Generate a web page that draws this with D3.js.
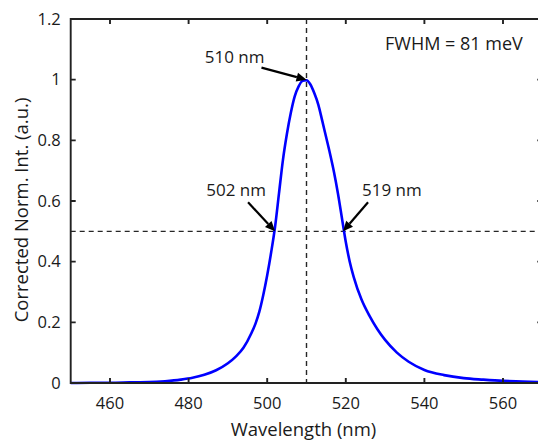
<!DOCTYPE html>
<html>
<head>
<meta charset="utf-8">
<script src="https://cdn.jsdelivr.net/npm/d3@7"></script>
<style>
  body { margin: 0; background: #fff; }
  svg { display: block; font-family: "Open Sans", sans-serif; }
</style>
</head>
<body>
<div id="chart"></div>
<script>
// spectrum
const wavelength = [450, 455, 460, 465, 470, 474, 478, 481, 484, 487, 490, 492, 494, 496, 497, 498, 499, 500, 501, 502,
  503, 504, 505, 506, 507, 508, 509, 510, 511, 512, 513, 514, 515, 516, 517, 518, 519, 520, 521, 522,
  524, 526, 528, 530, 533, 536, 540, 545, 550, 555, 560, 565, 570];
const intensity = [0.000, 0.001, 0.001, 0.002, 0.003, 0.006, 0.011, 0.017, 0.027, 0.042, 0.065, 0.087, 0.117, 0.165, 0.195, 0.235, 0.29, 0.355, 0.43, 0.515,
  0.625, 0.735, 0.82, 0.89, 0.945, 0.978, 0.996, 0.998, 0.984, 0.955, 0.918, 0.865, 0.81, 0.755, 0.695, 0.625, 0.545, 0.465, 0.4, 0.35,
  0.275, 0.222, 0.178, 0.142, 0.1, 0.07, 0.043, 0.026, 0.016, 0.011, 0.007, 0.005, 0.003];

const xTicks = [460, 480, 500, 520, 540, 560];
const yTicks = [0, 0.2, 0.4, 0.6, 0.8, 1, 1.2];
const yTickLabels = ["0", "0.2", "0.4", "0.6", "0.8", "1", "1.2"];

const peakWl = 510, halfMax = 0.5;
const annotations = [
  { label: "510 nm", wl: 510, val: 1.0 },
  { label: "502 nm", wl: 502, val: 0.5 },
  { label: "519 nm", wl: 519.3, val: 0.5 }
];
const fwhmText = "FWHM = 81 meV";

const W = 538, H = 442;
const margin = { top: 19, left: 70.7 };
const plotW = 471.6, plotH = 364;

const svg = d3.select("#chart").append("svg")
  .attr("width", W).attr("height", H);

// absolute-position scales
const x = d3.scaleLinear().domain([450, 570]).range([margin.left, margin.left + plotW]);
const y = d3.scaleLinear().domain([0, 1.2]).range([margin.top + plotH, margin.top]);

const axisColor = "#262626";
const textColor = "#1a1a1a";
const tickLen = 5;

// dashed guide lines
svg.append("line")
  .attr("x1", x(peakWl)).attr("x2", x(peakWl))
  .attr("y1", y(1.2)).attr("y2", y(0))
  .attr("stroke", axisColor).attr("stroke-width", 1.4)
  .attr("stroke-dasharray", "5,4");
svg.append("line")
  .attr("x1", x(450)).attr("x2", x(570))
  .attr("y1", y(halfMax)).attr("y2", y(halfMax))
  .attr("stroke", axisColor).attr("stroke-width", 1.4)
  .attr("stroke-dasharray", "5,4");

// spectrum
const data = wavelength.map((w, i) => ({ w, v: intensity[i] }));
svg.append("path")
  .datum(data)
  .attr("fill", "none")
  .attr("stroke", "#0000ff")
  .attr("stroke-width", 2.6)
  .attr("d", d3.line().x(d => x(d.w)).y(d => y(d.v)).curve(d3.curveMonotoneX));

// tick labels
svg.selectAll(".xl").data(xTicks).enter().append("text")
  .attr("x", d => x(d)).attr("y", y(0) + 26)
  .attr("text-anchor", "middle")
  .style("font-size", "16.5px").attr("fill", textColor)
  .text(d => d);
svg.selectAll(".ylab").data(yTicks).enter().append("text")
  .attr("x", x(450) - 10).attr("y", d => y(d)).attr("dy", "0.35em")
  .attr("text-anchor", "end")
  .style("font-size", "16.5px").attr("fill", textColor)
  .text((d, i) => yTickLabels[i]);

// axis titles
svg.append("text")
  .attr("x", x(510) - 3).attr("y", 436)
  .attr("text-anchor", "middle")
  .style("font-size", "18.5px").attr("fill", textColor)
  .text("Wavelength (nm)");

svg.append("text")
  .attr("transform", `translate(28,${margin.top + plotH / 2 + 9}) rotate(-90)`)
  .attr("text-anchor", "middle")
  .style("font-size", "18.5px").attr("fill", textColor)
  .text("Corrected Norm. Int. (a.u.)");

// annotations: arrow tail offset and label position relative to the marked point
const arrowOffsets = [
  { tx: -45, ty: -12, lx: -42, ly: -17, anchor: "end" },
  { tx: -27, ty: -29, lx: -9, ly: -35, anchor: "end" },
  { tx: 25, ty: -29, lx: 19, ly: -35, anchor: "start" }
];
const headLen = 10, headHalf = 4.5;
annotations.forEach((a, i) => {
  const o = arrowOffsets[i];
  const px = x(a.wl), py = y(a.val);
  const ang = Math.atan2(-o.ty, -o.tx);
  const bx = px - headLen * Math.cos(ang), by = py - headLen * Math.sin(ang);
  svg.append("line")
    .attr("x1", px + o.tx).attr("y1", py + o.ty)
    .attr("x2", bx).attr("y2", by)
    .attr("stroke", "#000").attr("stroke-width", 2.2);
  const nx = -Math.sin(ang) * headHalf, ny = Math.cos(ang) * headHalf;
  svg.append("path")
    .attr("d", `M${px},${py}L${bx + nx},${by + ny}L${bx - nx},${by - ny}Z`)
    .attr("fill", "#000");
  svg.append("text")
    .attr("x", px + o.lx).attr("y", py + o.ly)
    .attr("text-anchor", o.anchor)
    .style("font-size", "17px").attr("fill", textColor)
    .text(a.label);
});

svg.append("text")
  .attr("x", x(547.5)).attr("y", 50)
  .attr("text-anchor", "middle")
  .style("font-size", "18px").attr("fill", textColor)
  .text(fwhmText);

// box frame and inward ticks, one path drawn on top
let frameD = `M${x(450)},${y(0)}H${x(570)}V${y(1.2)}H${x(450)}Z`;
xTicks.forEach(t => {
  frameD += `M${x(t)},${y(0)}v${-tickLen}M${x(t)},${y(1.2)}v${tickLen}`;
});
yTicks.forEach(t => {
  frameD += `M${x(450)},${y(t)}h${tickLen}M${x(570)},${y(t)}h${-tickLen}`;
});
svg.append("path")
  .attr("d", frameD)
  .attr("fill", "none")
  .attr("stroke", "#222222")
  .attr("stroke-width", 1.9);
</script>
</body>
</html>
